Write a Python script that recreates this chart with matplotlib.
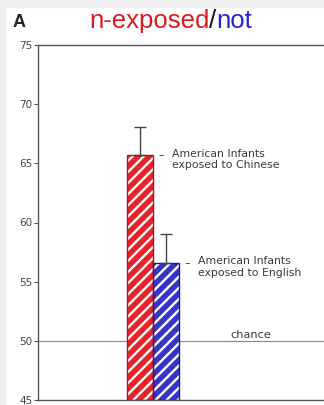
import matplotlib
matplotlib.use("Agg")
import matplotlib.pyplot as plt
from matplotlib.patches import Rectangle

plt.rcParams['font.family'] = ['DejaVu Sans']
plt.rcParams['hatch.linewidth'] = 1.7

# Data: percent correct discrimination
groups = ["American Infants\nexposed to Chinese", "American Infants\nexposed to English"]
means = [65.7, 56.6]
errors = [2.4, 2.4]
chance = 50
yticks = [45, 50, 55, 60, 65, 70, 75]

face_colors = ["#e8222a", "#3535c8"]
edge_colors = ["#b01018", "#1c1c90"]
x_pos = [0.357, 0.448]
bar_w = 0.091
label_gray = "#3a3a3a"

fig = plt.figure(figsize=(3.24, 4.05), dpi=100)
fig.patch.set_facecolor("white")
# light frame strips around the panel
fig.add_artist(Rectangle((0, 0), 5 / 324, 1, transform=fig.transFigure,
                         color="#efefef", zorder=0))
fig.add_artist(Rectangle((0, 1 - 7 / 405), 1, 7 / 405, transform=fig.transFigure,
                         color="#efefef", zorder=0))

ax = fig.add_axes([38 / 324, 5 / 405, 1 - 38 / 324, 355 / 405])
ax.set_xlim(0, 1)
ax.set_ylim(45, 75)

for x, m, fc, ec in zip(x_pos, means, face_colors, edge_colors):
    ax.bar(x, m - 45, bottom=45, width=bar_w, color=fc, edgecolor="white",
           hatch="///", linewidth=0, zorder=2)
    ax.bar(x, m - 45, bottom=45, width=bar_w, fill=False, edgecolor=ec,
           linewidth=1.0, zorder=3)

ax.errorbar(x_pos, means, yerr=[[0, 0], errors], fmt="none", ecolor="#444444",
            elinewidth=1.0, capsize=4, capthick=1.0, zorder=4)

ax.axhline(chance, color="#888888", lw=0.8, zorder=1)
ax.text(0.745, chance + 0.25, "chance", fontsize=8.2, color=label_gray,
        ha="center", va="baseline")

for x, m, label in zip(x_pos, means, groups):
    xr = x + bar_w / 2
    ax.annotate("–", xy=(xr, m), xytext=(3.6, 0), textcoords="offset points",
                fontsize=7.8, color=label_gray, va="center", ha="left")
    ax.annotate(label, xy=(xr, m), xytext=(13.5, 4.6), textcoords="offset points",
                fontsize=7.8, color=label_gray, va="top", ha="left",
                linespacing=1.15)

ax.set_yticks(yticks)
ax.set_yticklabels([str(t) for t in yticks], fontsize=7.5, color="#444444")
ax.tick_params(axis="y", length=3, width=0.8, color="#555555", pad=1)
ax.set_xticks([])
for side in ["left", "top", "bottom"]:
    ax.spines[side].set_color("#555555")
    ax.spines[side].set_linewidth(1.0)
ax.spines["right"].set_visible(False)

fig.text(13 / 324, 1 - 27 / 405, "A", fontsize=13, color="#222222",
         ha="left", va="baseline", family="Liberation Sans", weight="bold")

# multi-coloured heading
parts = [("n-exposed", "#e01820"), ("/", "#111111"), ("not", "#2424d8")]
fig.canvas.draw()
renderer = fig.canvas.get_renderer()
x_px = 89
for s, c in parts:
    t = fig.text(x_px / 324, 1 - 28 / 405, s, fontsize=18.5, color=c,
                 ha="left", va="baseline", family="Liberation Sans")
    bb = t.get_window_extent(renderer)
    x_px += bb.width

fig.savefig("out.png", dpi=100, facecolor=fig.get_facecolor())
